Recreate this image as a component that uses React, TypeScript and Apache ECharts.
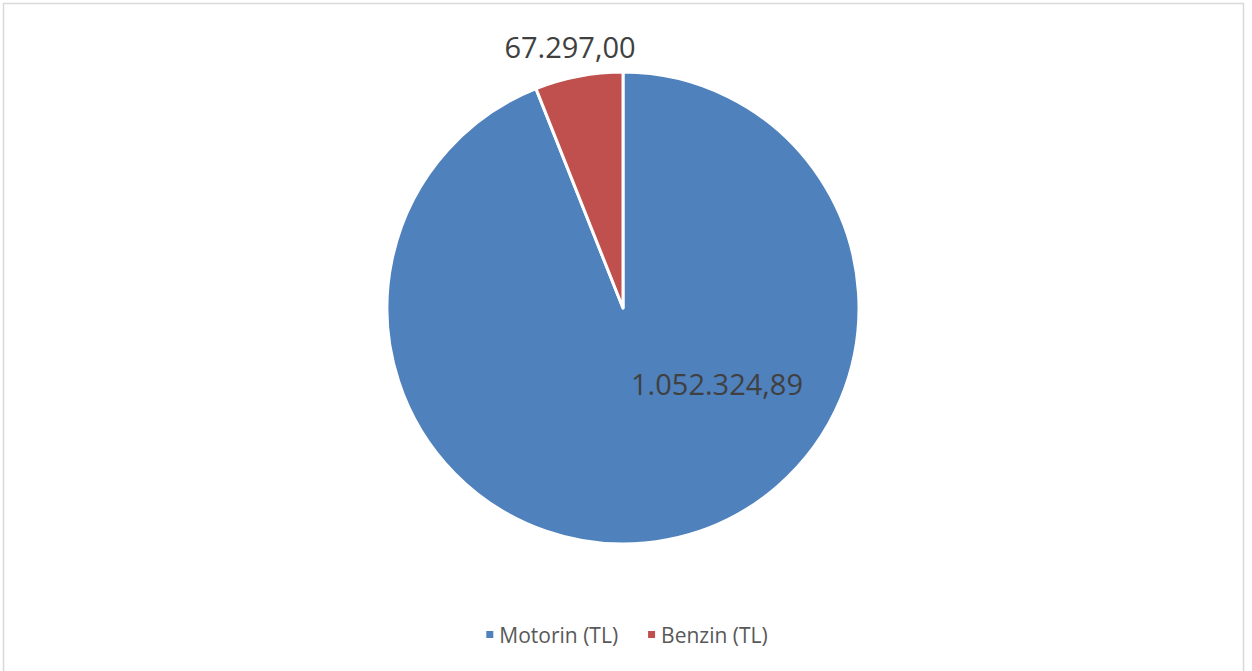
import React, { useEffect, useRef } from "react";
import * as echarts from "echarts";

const categories = ["Motorin (TL)", "Benzin (TL)"];
const values = [1052324.89, 67297.0];
const labelTexts = ["1.052.324,89", "67.297,00"];
const colors = ["#4F81BD", "#C0504D"];

export default function App() {
  const ref = useRef<HTMLDivElement>(null);
  useEffect(() => {
    document.body.style.margin = "0";
    const chart = echarts.init(ref.current!, null, { renderer: "svg" });
    const labelPos = [
      { x: 717, y: 383 },
      { x: 570, y: 46 },
    ];
    chart.setOption({
      animation: false,
      backgroundColor: "#ffffff",
      graphic: [
        {
          type: "rect",
          shape: { x: 3.5, y: 3.5, width: 1240, height: 700 },
          style: { fill: "none", stroke: "#D9D9D9", lineWidth: 1.5 },
          silent: true,
        },
      ],
      legend: {
        data: categories,
        top: 619,
        left: "center",
        icon: "rect",
        itemWidth: 9,
        itemHeight: 9,
        itemGap: 28,
        textStyle: { fontFamily: "Open Sans", fontSize: 21, color: "#595959" },
      },
      series: [
        {
          type: "pie",
          center: [623, 308],
          radius: 236,
          startAngle: 90,
          clockwise: true,
          itemStyle: { borderColor: "#ffffff", borderWidth: 3 },
          label: {
            show: true,
            position: "inside",
            fontFamily: "Open Sans",
            fontSize: 29,
            color: "#404040",
            formatter: (p: any) => labelTexts[p.dataIndex],
          },
          labelLine: { show: false },
          labelLayout: (p: any) => ({
            x: labelPos[p.dataIndex].x,
            y: labelPos[p.dataIndex].y,
            align: "center",
            verticalAlign: "middle",
          }),
          data: categories.map((c, i) => ({
            name: c,
            value: values[i],
            itemStyle: { color: colors[i] },
          })),
        },
      ],
    });
    return () => chart.dispose();
  }, []);
  return (
    <div
      ref={ref}
      style={{ position: "fixed", left: 0, top: 0, width: 1252, height: 671 }}
    />
  );
}
